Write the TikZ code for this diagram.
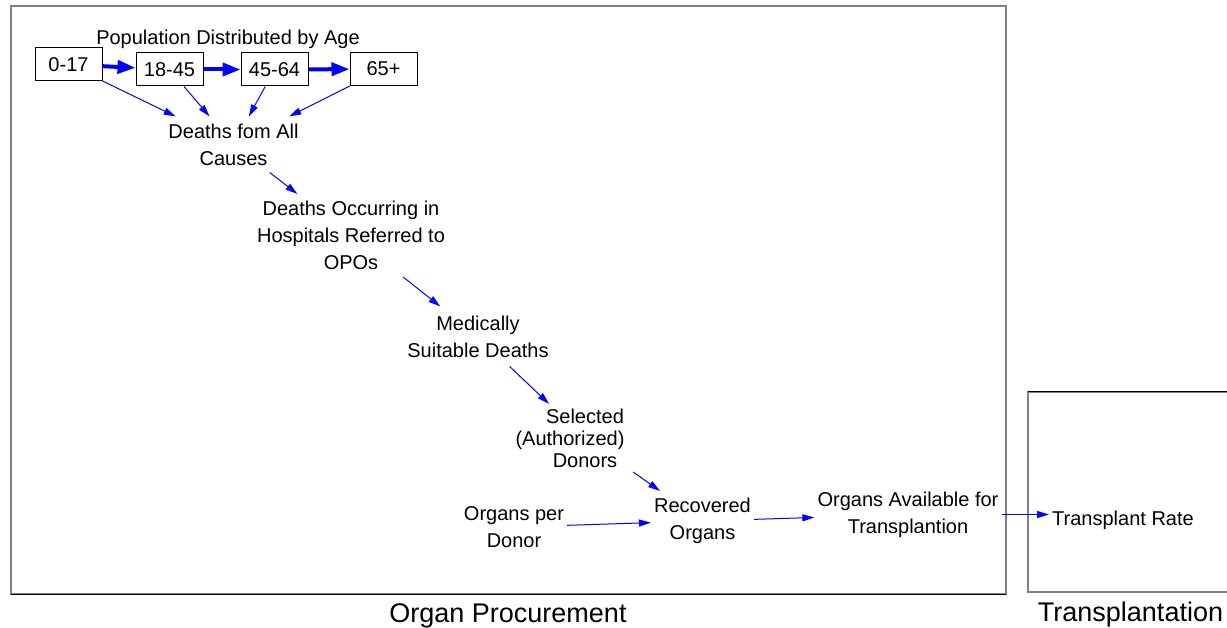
\documentclass[tikz,border=0pt]{standalone}
\usepackage{fontspec}
\setmainfont{Liberation Sans}
\usetikzlibrary{arrows.meta}
\definecolor{linkblue}{RGB}{0,0,255}
\definecolor{framegray}{RGB}{128,128,128}
\begin{document}
\begin{tikzpicture}[x=1pt,y=-1pt,
  txt/.style={font=\fontsize{20}{27}\selectfont, align=center, inner xsep=3pt, inner ysep=7pt},
  title/.style={font=\fontsize{27}{32}\selectfont, inner sep=0pt},
  agebox/.style={draw=black, line width=1pt, minimum width=67pt, minimum height=33pt, inner sep=0pt, font=\fontsize{20}{24}\selectfont},
  link/.style={draw=linkblue, line width=1pt, -{Triangle[length=12pt,width=7pt]}},
  flow/.style={draw=linkblue, line width=4pt, -{Triangle[length=18pt,width=13pt]}},
  sector/.style={draw=framegray, line width=2pt},
  sectoredge/.style={draw=black, line width=1pt}
]
\useasboundingbox (0,0) rectangle (1227,628);
% sector frames
\draw[sector] (10.5,6.5) rectangle (1005.5,594);
\draw[sectoredge] (10.5,594) -- (1005.5,594);
\draw[sector] (1240,592) -- (1028,592) -- (1028,392) -- (1240,392);
\draw[sectoredge] (1028,392) -- (1240,392);
\node[title] (tproc) at (508,615.5) {Organ Procurement};
\node[title] (ttrans) at (1130.5,614.5) {Transplantation};

% population
\node[txt, inner sep=0pt] (pop) at (228,39) {Population Distributed by Age};
\node[agebox] (a1) at (68.5,64.5) {0-17};
\node[agebox] (a2) at (169.5,69.5) {18-45};
\node[agebox] (a3) at (274.5,69.5) {45-64};
\node[agebox] (a4) at (383.5,69) {65+};
\draw[flow] (a1) -- (a2);
\draw[flow] (a2) -- (a3);
\draw[flow] (a3) -- (a4);

% chain
\node[txt] (d1) at (233.5,144.5) {Deaths fom All\\Causes};
\node[txt] (d2) at (351,235.5) {Deaths Occurring in\\Hospitals Referred to\\OPOs};
\node[txt, inner ysep=9pt] (d3) at (478,336.5) {Medically\\Suitable Deaths};
\node[txt, font=\fontsize{20}{22}\selectfont, inner ysep=4.5pt] (d4) at (585,438) {Selected\\(Authorized)\kern30pt\\Donors};
\node[txt] (opd) at (514,527) {Organs per\\Donor};
\node[txt] (rec) at (702.5,521) {Recovered\\Organs};
\node[txt] (oa) at (908,514.5) {Organs Available for\\Transplantion};
\node[txt, inner ysep=3pt] (tr) at (1123,520) {Transplant Rate};

\draw[link] (a1) -- (d1);
\draw[link] (a2) -- (d1);
\draw[link] (a3) -- (d1);
\draw[link] (a4) -- (d1);
\draw[link] (d1) -- (d2);
\draw[link] (d2) -- (d3);
\draw[link] (d3) -- (d4);
\draw[link] (d4) -- (rec);
\draw[link] (opd) -- (rec);
\draw[link] (rec) -- (oa);
\draw[link] (oa.east) -- (oa.east -| tr.west);
\end{tikzpicture}
\end{document}
